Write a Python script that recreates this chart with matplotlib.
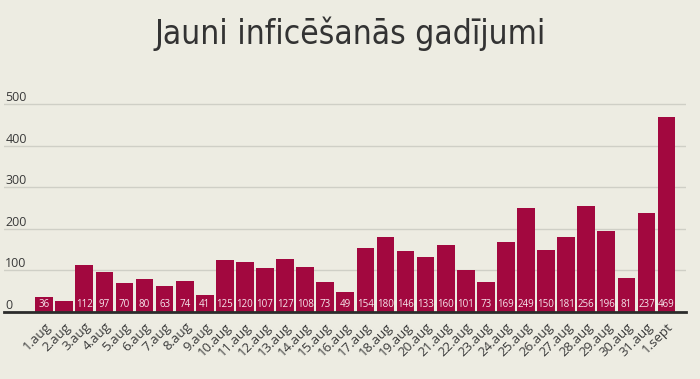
import matplotlib
matplotlib.use("Agg")
import matplotlib.pyplot as plt

# data
days = [
    "1.aug", "2.aug", "3.aug", "4.aug", "5.aug", "6.aug", "7.aug", "8.aug",
    "9.aug", "10.aug", "11.aug", "12.aug", "13.aug", "14.aug", "15.aug",
    "16.aug", "17.aug", "18.aug", "19.aug", "20.aug", "21.aug", "22.aug",
    "23.aug", "24.aug", "25.aug", "26.aug", "27.aug", "28.aug", "29.aug",
    "30.aug", "31.aug", "1.sept"
]
cases = [
    36, 27, 112, 97, 70, 80, 63, 74, 41, 125, 120, 107, 127, 108, 73, 49,
    154, 180, 146, 133, 160, 101, 73, 169, 249, 150, 181, 256, 196, 81,
    237, 469
]
bar_labels = [
    "36", "", "112", "97", "70", "80", "63", "74", "41", "125", "120", "107",
    "127", "108", "73", "49", "154", "180", "146", "133", "160", "101", "73",
    "169", "249", "150", "181", "256", "196", "81", "237", "469"
]
y_ticks = [0, 100, 200, 300, 400, 500]

bg = "#EDECE2"
bar_color = "#A2083F"
text_color = "#333333"

fig = plt.figure(figsize=(7, 3.79), dpi=100, facecolor=bg)
ax = fig.add_axes([4 / 700, 1 - 312 / 379, 682 / 700, 212 / 379])
ax.set_facecolor(bg)

x = list(range(len(days)))
ax.bar(x, cases, width=0.88, color=bar_color, zorder=3)

# value labels at the foot of each bar
for xi, lab in zip(x, bar_labels):
    if lab:
        ax.text(
            xi, 18, lab,
            ha="center", va="center",
            fontsize=7, color="#F6E6EC",
            family="Open Sans", zorder=4
        )

ax.set_xlim(-2, 31.97)
ax.set_ylim(0, 510)

ax.set_yticks(y_ticks)
ax.set_yticklabels([str(v) for v in y_ticks])
ax.tick_params(axis="y", length=0, pad=-1, labelsize=9, labelcolor="#3A3A3A")
for t in ax.get_yticklabels():
    t.set_horizontalalignment("left")
    t.set_verticalalignment("bottom")
    t.set_family("Open Sans")

ax.set_xticks(x)
ax.set_xticklabels(days, rotation=45, ha="right", rotation_mode="anchor",
                   family="Open Sans", fontsize=9.5, color="#3A3A3A")
ax.tick_params(axis="x", length=0, pad=6)

ax.grid(axis="y", color="#CFCFC6", linewidth=1, zorder=0)
for side in ["top", "right", "left"]:
    ax.spines[side].set_visible(False)
ax.spines["bottom"].set_color("#2B2B2B")
ax.spines["bottom"].set_linewidth(2)
ax.spines["bottom"].set_zorder(5)

fig.text(
    0.5, 1 - 34 / 379, "Jauni inficēšanās gadījumi",
    ha="center", va="center",
    fontsize=24, color=text_color,
    family="DejaVu Sans", stretch="condensed"
)

fig.savefig("out.png", dpi=100, facecolor=bg)
